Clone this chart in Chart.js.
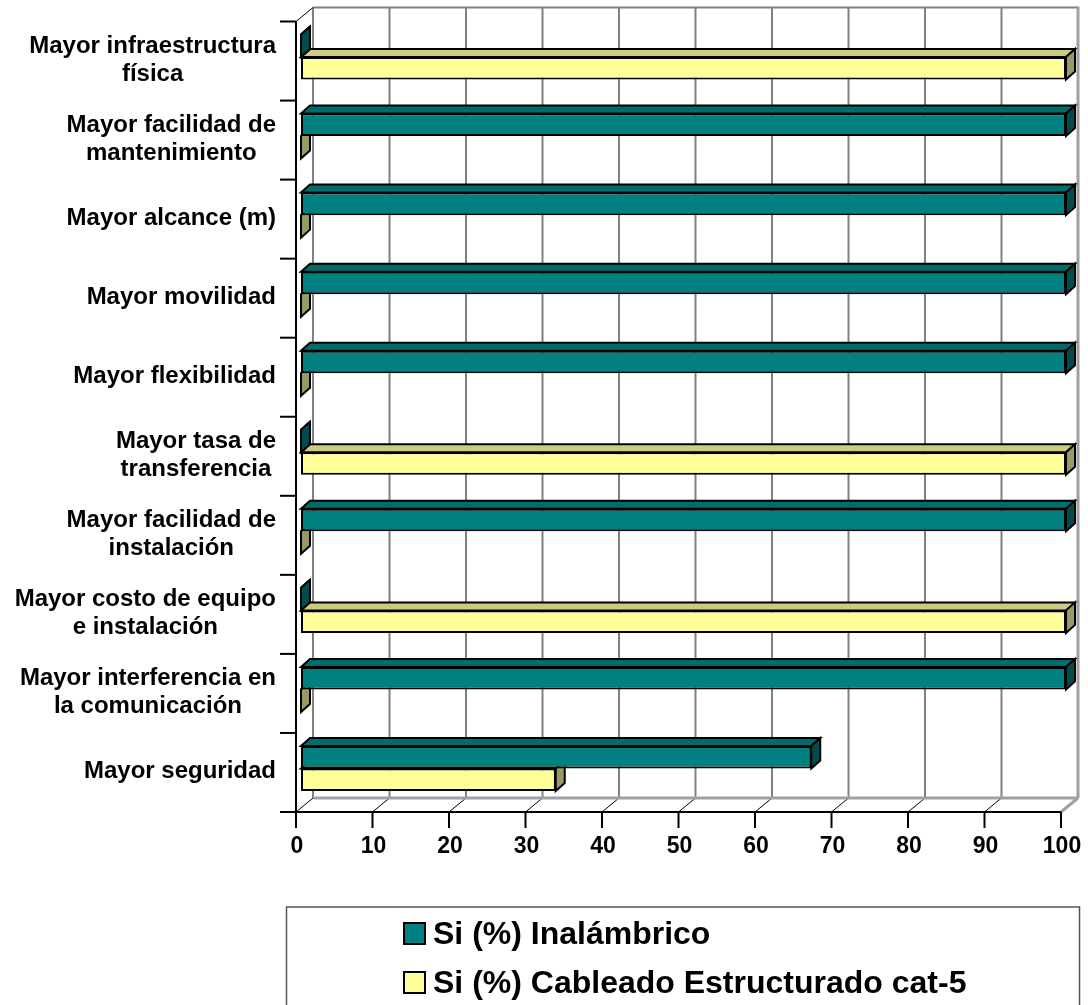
<!DOCTYPE html>
<html>
<head>
<meta charset="utf-8">
<script src="https://cdn.jsdelivr.net/npm/chart.js@4/dist/chart.umd.min.js"></script>
<style>
  html, body { margin: 0; padding: 0; background: #fff; }
  #wrap { width: 1088px; height: 1005px; }
</style>
</head>
<body>
<div id="wrap"><canvas id="chart" width="1088" height="1005"></canvas></div>
<script>
// ===== DATA =====
const categories = [
  ['Mayor infraestructura', 'física'],
  ['Mayor facilidad de', 'mantenimiento'],
  ['Mayor alcance (m)'],
  ['Mayor movilidad'],
  ['Mayor flexibilidad'],
  ['Mayor tasa de', 'transferencia'],
  ['Mayor facilidad de', 'instalación'],
  ['Mayor costo de equipo', 'e instalación'],
  ['Mayor interferencia en', 'la comunicación'],
  ['Mayor seguridad']
];
const inalambrico = [0, 100, 100, 100, 100, 0, 100, 0, 100, 66.7];
const cableado = [100, 0, 0, 0, 0, 100, 0, 100, 0, 33.3];
const xTicks = [0, 10, 20, 30, 40, 50, 60, 70, 80, 90, 100];
const seriesNames = ['Si (%) Inalámbrico', 'Si (%) Cableado Estructurado cat-5'];

// ===== STYLE =====
const FONT = '"Liberation Sans", Arial, sans-serif';
const FRONT = { dx: -5, dy: 4 };   // front plane of the box, relative to the bar plane
const BACK = { dx: 12, dy: -10 };  // back wall
const DEPTH = { dx: 9, dy: -8 };   // bar thickness
const faces = [
  { front: '#008080', top: '#006c6c', side: '#004c4c' },
  { front: '#FFFF99', top: '#cccc80', side: '#999966' }
];

function line(ctx, x1, y1, x2, y2) {
  ctx.beginPath();
  ctx.moveTo(x1, y1);
  ctx.lineTo(x2, y2);
  ctx.stroke();
}

function poly(ctx, pts, fill) {
  ctx.beginPath();
  ctx.moveTo(pts[0][0], pts[0][1]);
  for (let i = 1; i < pts.length; i++) ctx.lineTo(pts[i][0], pts[i][1]);
  ctx.closePath();
  ctx.fillStyle = fill;
  ctx.fill();
  ctx.stroke();
}

// ===== 3D BOX PLUGIN =====
const box3d = {
  id: 'box3d',

  beforeDatasetsDraw(chart) {
    const { ctx, chartArea: a, scales: { x, y } } = chart;
    const top = a.top, bot = a.bottom;
    ctx.save();
    ctx.lineCap = 'butt';

    // back wall grid
    ctx.strokeStyle = '#808080';
    ctx.lineWidth = 2;
    xTicks.forEach(v => {
      const xb = x.getPixelForValue(v) + BACK.dx;
      if (v === 100) return;
      line(ctx, xb, top + BACK.dy, xb, bot + BACK.dy);
    });
    line(ctx, x.getPixelForValue(0) + BACK.dx, top + BACK.dy, x.getPixelForValue(100) + BACK.dx, top + BACK.dy);

    // floor diagonals
    ctx.strokeStyle = '#000';
    ctx.lineWidth = 1;
    xTicks.forEach(v => {
      if (v === 100) return;
      const px = x.getPixelForValue(v);
      line(ctx, px + FRONT.dx, bot + FRONT.dy, px + BACK.dx, bot + BACK.dy);
    });
    // left wall top edge
    line(ctx, x.getPixelForValue(0) + FRONT.dx, top + FRONT.dy, x.getPixelForValue(0) + BACK.dx, top + BACK.dy);

    // right and bottom edges of the back wall
    ctx.strokeStyle = '#a0a0a0';
    ctx.lineWidth = 3;
    const xr = x.getPixelForValue(100);
    line(ctx, xr + BACK.dx, top + BACK.dy - 1, xr + BACK.dx, bot + BACK.dy);
    line(ctx, x.getPixelForValue(0) + BACK.dx, bot + BACK.dy, xr + BACK.dx, bot + BACK.dy);
    line(ctx, xr + BACK.dx, bot + BACK.dy, xr + FRONT.dx, bot + FRONT.dy);

    // front axes
    ctx.strokeStyle = '#000';
    ctx.lineWidth = 2;
    const x0 = x.getPixelForValue(0) + FRONT.dx;
    line(ctx, x0, top + FRONT.dy, x0, bot + FRONT.dy);
    line(ctx, x0, bot + FRONT.dy, xr + FRONT.dx, bot + FRONT.dy);

    // x ticks and labels
    ctx.font = 'bold 23px ' + FONT;
    ctx.fillStyle = '#000';
    ctx.textAlign = 'center';
    ctx.textBaseline = 'middle';
    xTicks.forEach(v => {
      const px = x.getPixelForValue(v) + FRONT.dx;
      line(ctx, px, bot + FRONT.dy, px, bot + FRONT.dy + 16);
      ctx.fillText(String(v), px + 1, bot + FRONT.dy + 35);
    });

    // category ticks and labels
    const band = (bot - top) / categories.length;
    for (let i = 0; i <= categories.length; i++) {
      const py = top + FRONT.dy + band * i;
      line(ctx, x0 - 16, py, x0, py);
    }
    ctx.font = 'bold 24px ' + FONT;
    const rightEdge = x0 - 20;
    const lh = 28;
    categories.forEach((lines, i) => {
      const cy = y.getPixelForValue(i) + FRONT.dy - 1;
      const w = Math.max(...lines.map(s => ctx.measureText(s).width));
      const cx = rightEdge - w / 2;
      lines.forEach((s, j) => {
        ctx.fillText(s, cx, cy + (j - (lines.length - 1) / 2) * lh);
      });
    });
    ctx.restore();
  },

  // top and side faces, drawn after each series so later bars overlap correctly
  afterDatasetDraw(chart, args) {
    const { ctx } = chart;
    const col = faces[args.index];
    ctx.save();
    ctx.strokeStyle = '#000';
    ctx.lineWidth = 2;
    ctx.lineJoin = 'miter';
    args.meta.data.forEach(el => {
      const { x, y, base, height } = el.getProps(['x', 'y', 'base', 'height'], true);
      const x0 = Math.min(x, base), x1 = Math.max(x, base);
      const yT = y - height / 2, yB = y + height / 2;
      poly(ctx, [[x0, yT], [x1, yT], [x1 + DEPTH.dx, yT + DEPTH.dy], [x0 + DEPTH.dx, yT + DEPTH.dy]], col.top);
      poly(ctx, [[x1, yT], [x1 + DEPTH.dx, yT + DEPTH.dy], [x1 + DEPTH.dx, yB + DEPTH.dy], [x1, yB]], col.side);
    });
    ctx.restore();
  },

  afterDraw(chart) {
    const { ctx } = chart;
    ctx.save();
    ctx.strokeStyle = '#555';
    ctx.lineWidth = 1.5;
    ctx.strokeRect(286.5, 907, 793, 120);
    ctx.font = 'bold 32px ' + FONT;
    ctx.textAlign = 'left';
    ctx.textBaseline = 'alphabetic';
    seriesNames.forEach((name, i) => {
      const yy = 923 + i * 49;
      ctx.fillStyle = faces[i].front;
      ctx.fillRect(404, yy, 21, 21);
      ctx.strokeStyle = '#000';
      ctx.lineWidth = 2;
      ctx.strokeRect(404, yy, 21, 21);
      ctx.fillStyle = '#000';
      ctx.fillText(name, 433, yy + 21);
    });
    ctx.restore();
  }
};

// ===== CHART =====
new Chart(document.getElementById('chart'), {
  type: 'bar',
  data: {
    labels: categories,
    datasets: [
      {
        label: seriesNames[0],
        data: inalambrico,
        backgroundColor: faces[0].front,
        borderColor: '#000',
        borderWidth: 2,
        borderSkipped: false
      },
      {
        label: seriesNames[1],
        data: cableado,
        backgroundColor: faces[1].front,
        borderColor: '#000',
        borderWidth: 2,
        borderSkipped: false
      }
    ]
  },
  options: {
    indexAxis: 'y',
    responsive: false,
    animation: false,
    events: [],
    categoryPercentage: 0.57,
    barPercentage: 1,
    layout: { padding: { left: 301, right: 22, top: 17.5, bottom: 197 } },
    plugins: {
      legend: { display: false },
      tooltip: { enabled: false }
    },
    scales: {
      x: { display: false, min: 0, max: 100 },
      y: { display: false }
    }
  },
  plugins: [box3d]
});
</script>
</body>
</html>
